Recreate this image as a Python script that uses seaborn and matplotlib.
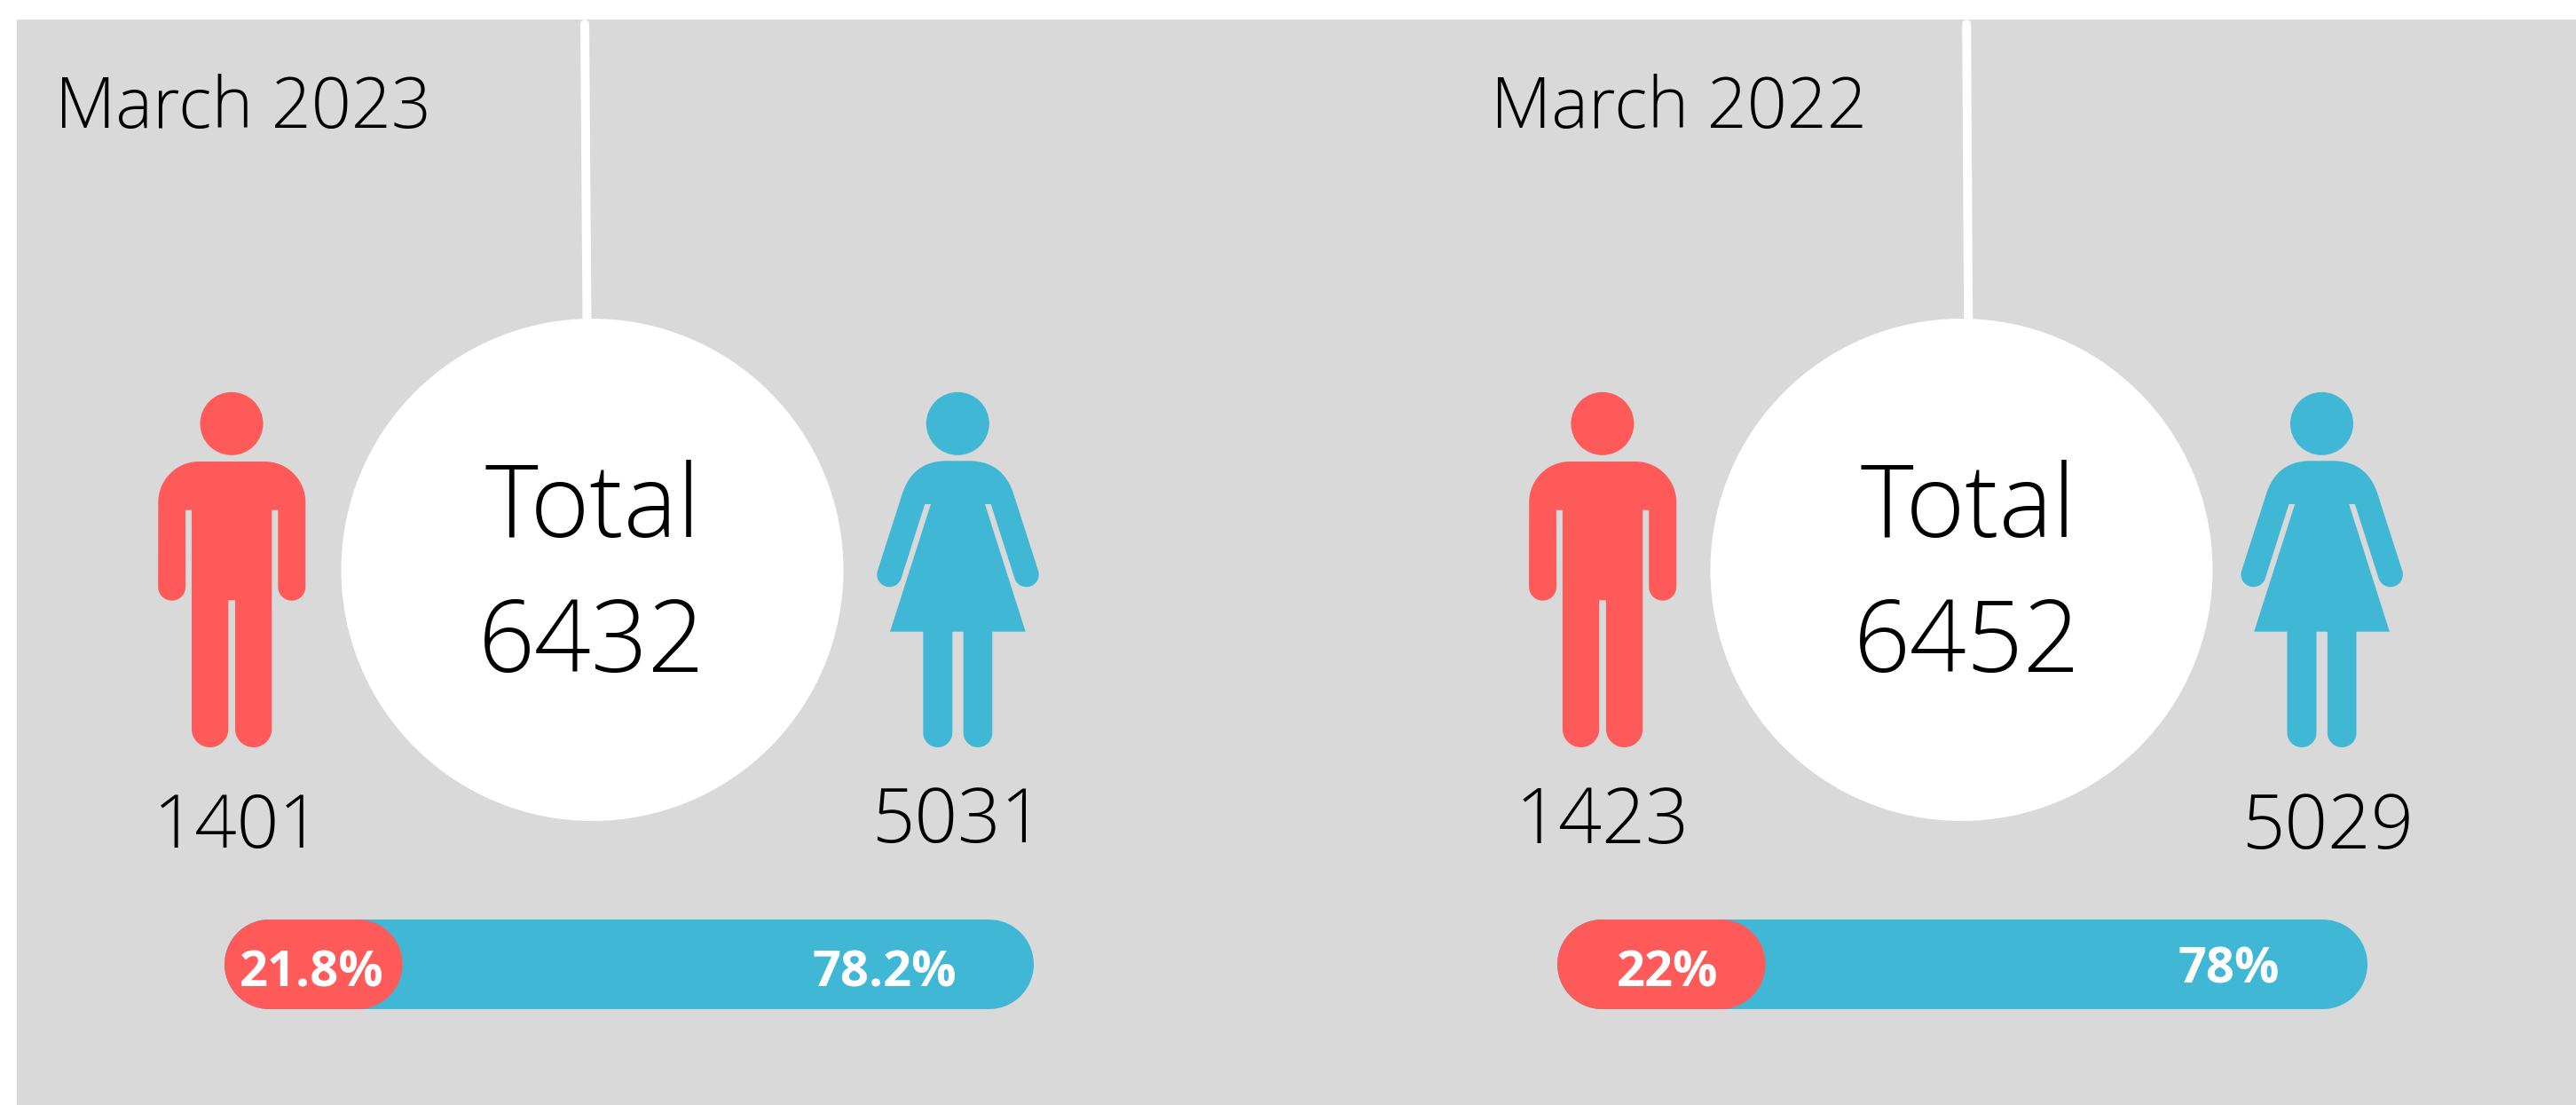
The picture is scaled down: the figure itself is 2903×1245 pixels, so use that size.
import numpy as np
import pandas as pd
import matplotlib
matplotlib.use("Agg")
import matplotlib.pyplot as plt
from matplotlib.patches import Polygon, Circle, Rectangle
import seaborn as sns

# ---------- data ----------
periods = ["March 2023", "March 2022"]
totals = [6432, 6452]
men = [1401, 1423]
women = [5031, 5029]
share_labels_men = ["21.8%", "22%"]
share_labels_women = ["78.2%", "78%"]
bar_share_men = [22.0, 25.7]      # length of the red pill as drawn, % of the whole bar
bar_share_whole = [100.0, 100.0]

# ---------- style ----------
W, H = 2903, 1245
GREY = "#D9D9D9"
RED = "#FF5A5A"
BLUE = "#41B7D6"
sns.set_theme(style="white")
plt.rcParams["font.family"] = ["Open Sans", "DejaVu Sans"]

fig = plt.figure(figsize=(W / 100, H / 100), dpi=100, facecolor="white")
ax = fig.add_axes([0, 0, 1, 1])
ax.set_xlim(0, W)
ax.set_ylim(H, 0)
ax.axis("off")


def arc(cx, cy, r, a0, a1, n=40):
    a = np.radians(np.linspace(a0, a1, n))
    return np.column_stack([cx + r * np.cos(a), cy + r * np.sin(a)])


def quad(p0, c, p1, n=30):
    t = np.linspace(0, 1, n)[:, None]
    p0, c, p1 = map(np.asarray, (p0, c, p1))
    return (1 - t) ** 2 * p0 + 2 * t * (1 - t) * c + t ** 2 * p1


def draw_man(dx, color):
    pts = np.vstack([
        arc(224.3, 566, 46, 180, 270), arc(298.3, 566, 46, 270, 360),
        arc(328.8, 661.2, 15.5, 0, 180), [[313.3, 574.7], [306.3, 574.7]],
        arc(285.65, 821.35, 20.65, 0, 180), [[265, 676.3], [257.3, 676.3]],
        arc(236.65, 821.35, 20.65, 0, 180), [[216, 574.7], [209, 574.7]],
        arc(193.65, 661.2, 15.5, 0, 180),
    ])
    pts[:, 0] += dx
    ax.add_patch(Polygon(pts, closed=True, fc=color, ec="none", zorder=3))
    ax.add_patch(Circle((261 + dx, 477.3), 35.5, fc=color, ec="none", zorder=3))


def draw_woman(dx, color):
    pts = np.vstack([
        [[1066.7, 519.3], [1091.7, 519.3]],
        quad((1091.7, 519.3), (1130.3, 519.3), (1142.3, 556.7)),
        arc(1156.7, 647.3, 14, -19, 162),
        [[1116.7, 568], [1110, 568], [1155.7, 711.7], [1118.3, 711.7]],
        arc(1102, 825.7, 16.3, 0, 180), [[1085.7, 711.7], [1073.3, 711.7]],
        arc(1056.8, 825.5, 16.5, 0, 180),
        [[1040.3, 711.7], [1003, 711.7], [1049, 568], [1042.3, 568]],
        arc(1002.3, 647.3, 14, 18, 199),
        quad((1016.7, 556.7), (1028.7, 519.3), (1066.7, 519.3)),
    ])
    pts[:, 0] += dx
    ax.add_patch(Polygon(pts, closed=True, fc=color, ec="none", zorder=3))
    ax.add_patch(Circle((1079.3 + dx, 477.3), 35.5, fc=color, ec="none", zorder=3))


def pill(x0, x1, y0, y1, color, z):
    r = (y1 - y0) / 2
    cy = (y0 + y1) / 2
    pts = np.vstack([arc(x1 - r, cy, r, -90, 90), arc(x0 + r, cy, r, 90, 270)])
    ax.add_patch(Polygon(pts, closed=True, fc=color, ec="none", zorder=z))


def label(x, y, s, px, weight=300, color="black"):
    ax.text(x, y, s, fontsize=px * 0.72, fontweight=weight, color=color,
            ha="center", va="baseline", zorder=6, family=["Open Sans", "DejaVu Sans"])


# ---------- background ----------
ax.add_patch(Rectangle((19, 22), W - 19, H - 22, fc=GREY, ec="none", zorder=0))

# ---------- layout per panel (pixels) ----------
LAY = [
    dict(period_x=274, line=(659, 661.5), cx=667.5, total_x=668, num_x=667, man_dx=0, woman_dx=0,
         man_x=268, man_y=955.5, man_px=83, woman_x=1079.5, woman_y=949, woman_px=85,
         bar=(253, 1165), men_x=351, women_x=996.5, women_y=1112),
    dict(period_x=1891.5, line=(2216.2, 2218.2), cx=2210.5, total_x=2218, num_x=2217, man_dx=1544.9, woman_dx=1537.2,
         man_x=1806, man_y=949.6, man_px=86, woman_x=2623, woman_y=956.4, woman_px=85,
         bar=(1755, 2668), men_x=1879, women_x=2512, women_y=1108),
]
BAR_Y = (1036, 1137)

for i, L in enumerate(LAY):
    label(L["period_x"], 144, periods[i], 79)

    # hanging line and circle
    lx0, lx1 = L["line"]
    ax.plot([lx0, lx1], [27, 362], color="white", lw=10 * 0.72, solid_capstyle="round", zorder=1)
    ax.add_patch(Circle((L["cx"], 642), 283, fc="white", ec="none", zorder=2))
    label(L["total_x"], 605.5, "Total", 114)
    label(L["num_x"], 757, str(totals[i]), 112)

    # icons and counts
    draw_man(L["man_dx"], RED)
    draw_woman(L["woman_dx"], BLUE)
    label(L["man_x"], L["man_y"], str(men[i]), L["man_px"])
    label(L["woman_x"], L["woman_y"], str(women[i]), L["woman_px"])

    # share bar, on its own 0-100 scale
    b0, b1 = L["bar"]
    bar_ax = fig.add_axes([b0 / W, 1 - BAR_Y[1] / H, (b1 - b0) / W, (BAR_Y[1] - BAR_Y[0]) / H], zorder=-1)
    frame = pd.DataFrame({"period": [periods[i]], "whole": [bar_share_whole[i]], "men": [bar_share_men[i]]})
    sns.barplot(data=frame, x="whole", y="period", orient="h", color=BLUE, saturation=1, width=1, ax=bar_ax)
    sns.barplot(data=frame, x="men", y="period", orient="h", color=RED, saturation=1, width=1, ax=bar_ax)
    bar_ax.set_xlim(0, 100)
    bar_ax.set_ylim(0.5, -0.5)
    bar_ax.axis("off")
    to_px = bar_ax.transData + ax.transData.inverted()
    for z, rect in zip((3, 4), list(bar_ax.patches)):
        (x0, y0), (x1, y1) = to_px.transform(rect.get_bbox().get_points())
        pill(x0, x1, min(y0, y1), max(y0, y1), rect.get_facecolor(), z)
        rect.set_visible(False)
    label(L["men_x"], 1112, share_labels_men[i], 56, weight=700, color="white")
    label(L["women_x"], L["women_y"], share_labels_women[i], 56, weight=700, color="white")

fig.savefig("out.png", dpi=100, facecolor="white")
